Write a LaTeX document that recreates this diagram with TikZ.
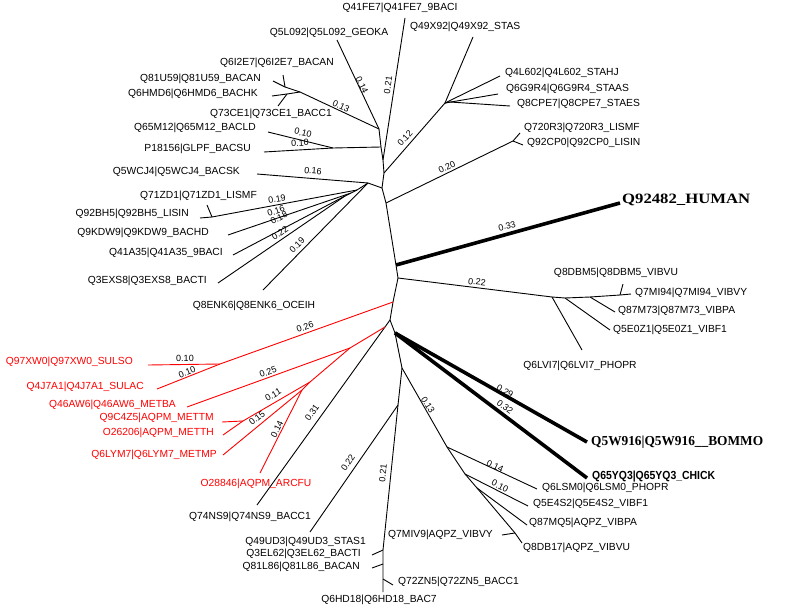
\documentclass[tikz,border=0pt]{standalone}
\usepackage{fontspec}
\setmainfont{Liberation Sans}
\newfontfamily\serifbold{Liberation Serif}
\begin{document}
\begin{tikzpicture}[x=1pt,y=-1pt,
  br/.style={line width=0.9pt},
  rb/.style={line width=0.9pt, draw=red},
  tbr/.style={line width=3.6pt},
  leaf/.style={font=\fontsize{10.3}{12}\selectfont, inner sep=0pt},
  rleaf/.style={leaf, text=red},
  bl/.style={font=\fontsize{9}{10}\selectfont, inner sep=0pt},
  rbl/.style={bl, text=black},
]
\fill[white] (0,0) rectangle (785,613);
\useasboundingbox (0,0) rectangle (785,613);
% ---------- coordinates: backbone
\coordinate (n1) at (379,129);
\coordinate (bp) at (381,147);
\coordinate (bq) at (383,160);
\coordinate (b2) at (384,173);
\coordinate (b3) at (382,188);
\coordinate (b4) at (386,203);
\coordinate (b5) at (396,265);
\coordinate (b6) at (398,278);
\coordinate (b7) at (393,302);
\coordinate (r2) at (390,320);
\coordinate (t) at (395,333);
\coordinate (u) at (402,368);
\coordinate (j1) at (398,405);
\coordinate (l1) at (383,550);
\coordinate (l2) at (383,564);
\coordinate (l3) at (383,579);
\coordinate (e6hd) at (383,592);
% top
\coordinate (eq5l) at (337,40);
\coordinate (eq41) at (405,18);
% BACAN cluster
\coordinate (ba1) at (300,92);
\coordinate (ba2) at (285,87);
\coordinate (ba3) at (287,94);
\coordinate (e81u) at (273,81);
\coordinate (e6i2) at (283,75);
\coordinate (e6hm) at (272,96);
\coordinate (e73c) at (278,106);
% Q65M12 / P18156
\coordinate (pq) at (333,148);
\coordinate (e65m) at (268,132);
\coordinate (e181) at (264,152);
% left fan
\coordinate (w) at (368,183);
\coordinate (e5wc) at (257,174);
\coordinate (e8en) at (263,290);
\coordinate (f2) at (357,190);
\coordinate (k) at (212,217);
\coordinate (e92b) at (200,218);
\coordinate (e71z) at (207,205);
\coordinate (f3) at (351,193);
\coordinate (e9kd) at (228,235);
\coordinate (f4) at (345,196);
\coordinate (e41a) at (233,255);
\coordinate (e3ex) at (218,283);
% STAS
\coordinate (s) at (445,103);
\coordinate (e49x) at (473,37);
\coordinate (e4l6) at (500,76);
\coordinate (e6g9) at (498,94);
\coordinate (s2) at (450,102);
\coordinate (e8cp) at (510,106);
% LIS
\coordinate (li) at (513,141);
\coordinate (e720) at (520,133);
\coordinate (e92c) at (523,145);
% human
\coordinate (ehum) at (620,203);
% VIB upper
\coordinate (v1) at (552,297);
\coordinate (v2) at (565,298);
\coordinate (v3) at (590,297);
\coordinate (v4) at (620,295);
\coordinate (e7mi) at (631,294);
\coordinate (e8dbm) at (623,284);
\coordinate (e6lv) at (582,350);
\coordinate (e5e0) at (610,330);
\coordinate (e87m) at (615,312);
% red
\coordinate (sul) at (220,364);
\coordinate (e97x) at (148,365);
\coordinate (e4j7) at (157,389);
\coordinate (x) at (385,327);
\coordinate (m3) at (350,348);
\coordinate (e46a) at (187,407);
\coordinate (m2) at (310,382);
\coordinate (m2a) at (302,390);
\coordinate (m1) at (243,421);
\coordinate (e9c4) at (222,422);
\coordinate (e262) at (223,435);
\coordinate (e6ly) at (223,455);
\coordinate (e288) at (260,473);
% bottom left
\coordinate (e74n) at (257,505);
\coordinate (e49u) at (310,532);
\coordinate (e3el) at (372,555);
\coordinate (e81l) at (372,568);
\coordinate (e72z) at (393,585);
% thick
\coordinate (e5w9) at (587,442);
\coordinate (e65y) at (587,478);
% VIB lower
\coordinate (c1) at (447,447);
\coordinate (c2) at (465,474);
\coordinate (c3) at (477,488);
\coordinate (c4) at (515,533);
\coordinate (e6ls) at (537,489);
\coordinate (e5e4) at (528,506);
\coordinate (e87mq) at (527,525);
\coordinate (e8db17) at (522,543);
\coordinate (e7miv) at (502,535);

% ---------- branches
\draw[br] (n1) -- (bp) -- (bq) -- (b2) -- (b3) -- (b4) -- (b5) -- (b6) -- (b7) -- (r2) -- (t) -- (u) -- (j1) -- (l1) -- (l2) -- (l3) -- (e6hd);
\draw[br] (n1) -- (eq5l);
\draw[br] (bq) -- (eq41);
\draw[br] (n1) -- (ba1);
\draw[br] (ba1) -- (ba2) -- (e81u);
\draw[br] (ba2) -- (e6i2);
\draw[br] (ba1) -- (ba3) -- (e6hm);
\draw[br] (ba3) -- (e73c);
\draw[br] (bp) -- (pq) -- (e181);
\draw[br] (pq) -- (e65m);
\draw[br] (b3) -- (w) -- (e5wc);
\draw[br] (w) -- (e8en);
\draw[br] (w) -- (f2) -- (k) -- (e92b);
\draw[br] (k) -- (e71z);
\draw[br] (f2) -- (f3) -- (e9kd);
\draw[br] (f3) -- (f4) -- (e41a);
\draw[br] (f4) -- (e3ex);
\draw[br] (b2) -- (s) -- (e49x);
\draw[br] (s) -- (e4l6);
\draw[br] (s) -- (e6g9);
\draw[br] (s) -- (s2) -- (e8cp);
\draw[br] (b4) -- (li) -- (e720);
\draw[br] (li) -- (e92c);
\draw[tbr] (b5) -- (ehum);
\draw[br] (b6) -- (v1) -- (v2) -- (v3) -- (v4) -- (e7mi);
\draw[br] (v4) -- (e8dbm);
\draw[br] (v1) -- (e6lv);
\draw[br] (v2) -- (e5e0);
\draw[br] (v3) -- (e87m);
\draw[rb] (b7) -- (sul) -- (e97x);
\draw[rb] (sul) -- (e4j7);
\draw[br] (r2) -- (x) -- (e74n);
\draw[rb] (x) -- (m3) -- (e46a);
\draw[rb] (m3) -- (m2) -- (m1) -- (e9c4);
\draw[rb] (m1) -- (e262);
\draw[rb] (m2) -- (m2a) -- (e6ly);
\draw[rb] (m2a) -- (e288);
\draw[br] (j1) -- (e49u);
\draw[br] (l1) -- (e3el);
\draw[br] (l2) -- (e81l);
\draw[br] (l3) -- (e72z);
\draw[tbr] (t) -- (e5w9);
\draw[tbr] (t) -- (e65y);
\draw[br] (u) -- (c1) -- (c2) -- (c3) -- (c4) -- (e8db17);
\draw[br] (c1) -- (e6ls);
\draw[br] (c2) -- (e5e4);
\draw[br] (c3) -- (e87mq);
\draw[br] (c4) -- (e7miv);

% ---------- leaf labels
\node[leaf] (lq41) at (400,8) {Q41FE7|Q41FE7\_9BACI};
\node[leaf] (lq5l) at (329,33) {Q5L092|Q5L092\_GEOKA};
\node[leaf, anchor=west] (lq49x) at (410,27) {Q49X92|Q49X92\_STAS};
\node[leaf, anchor=east] (lq6i2) at (334,63) {Q6I2E7|Q6I2E7\_BACAN};
\node[leaf, anchor=east] (lq81u) at (261,79) {Q81U59|Q81U59\_BACAN};
\node[leaf, anchor=east] (lq6hm) at (258,94) {Q6HMD6|Q6HMD6\_BACHK};
\node[leaf, anchor=east] (lq73c) at (332,114) {Q73CE1|Q73CE1\_BACC1};
\node[leaf, anchor=east] (lq65m) at (256,128) {Q65M12|Q65M12\_BACLD};
\node[leaf, anchor=east] (lp181) at (251,149) {P18156|GLPF\_BACSU};
\node[leaf, anchor=east] (lq5wc) at (240,172) {Q5WCJ4|Q5WCJ4\_BACSK};
\node[leaf, anchor=east] (lq71z) at (257,196) {Q71ZD1|Q71ZD1\_LISMF};
\node[leaf, anchor=east] (lq92b) at (189,214) {Q92BH5|Q92BH5\_LISIN};
\node[leaf, anchor=east] (lq9kd) at (209,233) {Q9KDW9|Q9KDW9\_BACHD};
\node[leaf, anchor=east] (lq41a) at (223,253) {Q41A35|Q41A35\_9BACI};
\node[leaf, anchor=east] (lq3ex) at (207,281) {Q3EXS8|Q3EXS8\_BACTI};
\node[leaf] (lq8en) at (254,306) {Q8ENK6|Q8ENK6\_OCEIH};
\node[rleaf, anchor=east] (lq97x) at (133,362) {Q97XW0|Q97XW0\_SULSO};
\node[rleaf, anchor=east] (lq4j7) at (144,387) {Q4J7A1|Q4J7A1\_SULAC};
\node[rleaf, anchor=east] (lq46a) at (176,405) {Q46AW6|Q46AW6\_METBA};
\node[rleaf, anchor=east] (lq9c4) at (214,418) {Q9C4Z5|AQPM\_METTM};
\node[rleaf, anchor=east] (lo262) at (214,433) {O26206|AQPM\_METTH};
\node[rleaf, anchor=east] (lq6ly) at (217,455) {Q6LYM7|Q6LYM7\_METMP};
\node[rleaf] (lo288) at (256,484) {O28846|AQPM\_ARCFU};
\node[leaf] (lq74n) at (250,517) {Q74NS9|Q74NS9\_BACC1};
\node[leaf, anchor=east] (lq49u) at (366,542) {Q49UD3|Q49UD3\_STAS1};
\node[leaf, anchor=east] (lq3el) at (361,554) {Q3EL62|Q3EL62\_BACTI};
\node[leaf, anchor=east] (lq81l) at (360,567) {Q81L86|Q81L86\_BACAN};
\node[leaf] (lq6hd) at (379,600) {Q6HD18|Q6HD18\_BAC7};
\node[leaf, anchor=east] (lq7miv) at (493,535) {Q7MIV9|AQPZ\_VIBVY};
\node[leaf, anchor=west] (lq72z) at (398,582) {Q72ZN5|Q72ZN5\_BACC1};
\node[leaf, anchor=west] (lq4l6) at (505,73) {Q4L602|Q4L602\_STAHJ};
\node[leaf, anchor=west] (lq6g9) at (506,89) {Q6G9R4|Q6G9R4\_STAAS};
\node[leaf, anchor=west] (lq8cp) at (517,104) {Q8CPE7|Q8CPE7\_STAES};
\node[leaf, anchor=west] (lq720) at (524,128) {Q720R3|Q720R3\_LISMF};
\node[leaf, anchor=west] (lq92c) at (527,143) {Q92CP0|Q92CP0\_LISIN};
\node[inner sep=0pt, anchor=west] (lhum) at (622,200) {\resizebox{128pt}{9.5pt}{\serifbold\bfseries Q92482\_HUMAN}};
\node[leaf] (lq8dbm) at (616,273) {Q8DBM5|Q8DBM5\_VIBVU};
\node[leaf, anchor=west] (lq7mi) at (635,293) {Q7MI94|Q7MI94\_VIBVY};
\node[leaf, anchor=west] (lq87m) at (618,311) {Q87M73|Q87M73\_VIBPA};
\node[leaf, anchor=west] (lq5e0) at (613,330) {Q5E0Z1|Q5E0Z1\_VIBF1};
\node[leaf] (lq6lv) at (580,366) {Q6LVI7|Q6LVI7\_PHOPR};
\node[inner sep=0pt, anchor=west] (lq5w9) at (591,442) {\resizebox{172pt}{9.5pt}{\serifbold\bfseries Q5W916|Q5W916\_\_BOMMO}};
\node[inner sep=0pt, anchor=west] (lq65y) at (592,477) {\resizebox{123pt}{8.5pt}{\bfseries Q65YQ3|Q65YQ3\_CHICK}};
\node[leaf, anchor=west] (lq6ls) at (542,488) {Q6LSM0|Q6LSM0\_PHOPR};
\node[leaf, anchor=west] (lq5e4) at (533,504) {Q5E4S2|Q5E4S2\_VIBF1};
\node[leaf, anchor=west] (lq87mq) at (529,523) {Q87MQ5|AQPZ\_VIBPA};
\node[leaf, anchor=west] (lq8db17) at (523,548) {Q8DB17|AQPZ\_VIBVU};

% ---------- branch-length labels
\node[bl, rotate=-65] (d1) at (362,85) {0.14};
\node[bl, rotate=82] (d2) at (388,85) {0.21};
\node[bl, rotate=-25] (d3) at (341,106) {0.13};
\node[bl, rotate=-14] (d4) at (303,133) {0.10};
\node[bl, rotate=3] (d5) at (300,143) {0.10};
\node[bl, rotate=-5] (d6) at (313,171) {0.16};
\node[bl, rotate=10] (d7) at (277,199) {0.19};
\node[bl, rotate=19] (d8) at (276,211) {0.16};
\node[bl, rotate=28] (d9) at (279,218) {0.18};
\node[bl, rotate=34] (d10) at (280,233) {0.22};
\node[bl, rotate=45] (d11) at (297,245) {0.19};
\node[bl, rotate=48] (d12) at (405,138) {0.12};
\node[bl, rotate=26] (d13) at (447,167) {0.20};
\node[bl, rotate=15] (d14) at (507,226) {0.33};
\node[bl, rotate=-7] (d15) at (477,282) {0.22};
\node[bl, rotate=-30] (d16) at (505,391) {0.29};
\node[bl, rotate=-37] (d17) at (505,407) {0.32};
\node[bl, rotate=-58] (d18) at (428,405) {0.13};
\node[bl, rotate=-25] (d19) at (495,466) {0.14};
\node[bl, rotate=-27] (d20) at (500,486) {0.10};
\node[bl, rotate=84] (d21) at (383,473) {0.21};
\node[bl, rotate=56] (d22) at (348,463) {0.22};
\node[bl, rotate=54] (d23) at (312,413) {0.31};
\node[rbl, rotate=20] (d24) at (305,327) {0.26};
\node[rbl] (d25) at (185,358) {0.10};
\node[rbl, rotate=22] (d26) at (187,372) {0.10};
\node[rbl, rotate=20] (d27) at (268,372) {0.25};
\node[rbl, rotate=30] (d28) at (273,395) {0.11};
\node[rbl, rotate=39] (d29) at (257,418) {0.15};
\node[rbl, rotate=63] (d30) at (277,429) {0.14};
\end{tikzpicture}
\end{document}
